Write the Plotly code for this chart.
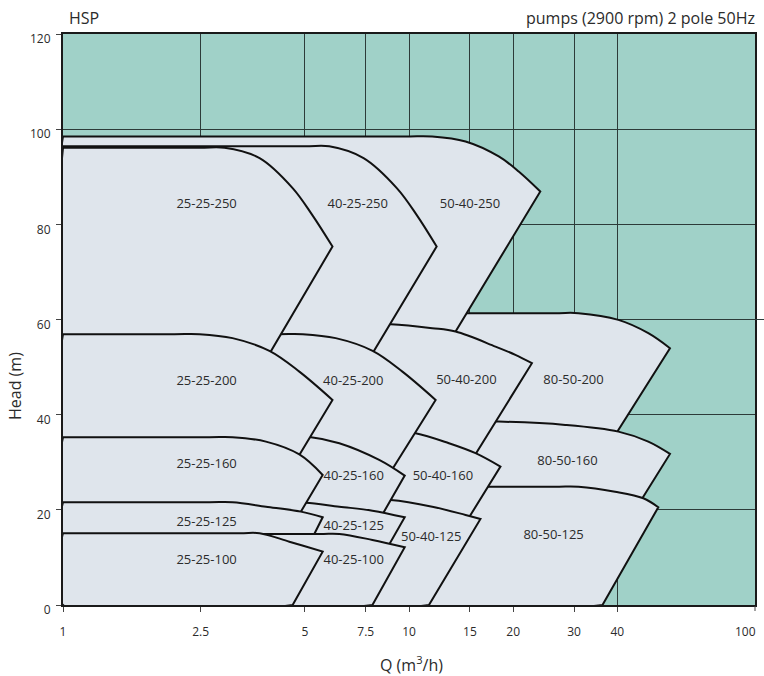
import math
import plotly.graph_objects as go

# ---------------- data ----------------
models = ["25-25-250", "40-25-250", "50-40-250",
          "25-25-200", "40-25-200", "50-40-200", "80-50-200",
          "25-25-160", "40-25-160", "50-40-160", "80-50-160",
          "25-25-125", "40-25-125", "50-40-125", "80-50-125",
          "25-25-100", "40-25-100"]

# upper boundary of each pump range: flow Q (m3/h) ... last point = right-hand corner
top_q = [
    [1, 2.48, 2.93, 3.70, 4.61, 5.25, 6.01],
    [1, 4.98, 5.88, 7.39, 9.22, 10.52, 12.02],
    [1, 9.67, 11.67, 14.57, 18.17, 20.75, 23.96],
    [1, 2.10, 2.48, 3.09, 3.95, 4.82, 6.01],
    [1, 4.17, 4.93, 6.14, 7.85, 9.57, 11.94],
    [1, 7.18, 8.86, 11.67, 13.63, 17.78, 20.30, 22.66],
    [1, 26.18, 30.90, 40.29, 49.16, 56.79],
    [1, 2.65, 3.09, 3.86, 4.82, 5.63],
    [1, 4.51, 5.21, 6.29, 8.20, 9.72],
    [1, 8.76, 10.45, 13.04, 15.57, 18.38],
    [1, 18.17, 28.29, 40.29, 49.16, 56.79],
    [1, 2.65, 3.09, 3.86, 4.87, 5.63],
    [1, 4.51, 5.04, 6.29, 7.84, 9.72],
    [1, 7.67, 8.86, 11.67, 14.57, 16.09],
    [1, 26.18, 30.90, 39.41, 47.56, 52.54],
    [1, 3.24, 3.70, 4.51, 5.63],
    [1, 5.51, 6.29, 7.84, 9.72],
]
# matching head H (m)
top_h = [
    [96.1, 96.1, 96.1, 93.92, 87.62, 82.0, 75.34],
    [96.4, 96.4, 96.4, 93.92, 87.62, 82.0, 75.34],
    [98.47, 98.47, 98.47, 97.41, 94.26, 91.11, 86.90],
    [56.92, 56.92, 56.92, 56.08, 53.41, 49.05, 43.10],
    [56.92, 56.92, 56.92, 56.08, 53.41, 49.05, 43.10],
    [59.02, 59.02, 59.02, 58.18, 57.46, 54.31, 52.57, 50.82],
    [61.33, 61.33, 61.33, 59.92, 57.13, 53.97],
    [35.26, 35.26, 35.26, 34.34, 31.64, 27.33],
    [35.26, 35.26, 35.26, 34.00, 30.49, 27.19],
    [36.59, 36.59, 36.10, 34.00, 31.90, 29.08],
    [38.54, 38.54, 37.85, 36.44, 34.34, 31.75],
    [21.59, 21.59, 21.59, 20.67, 19.62, 18.44],
    [21.51, 21.51, 21.51, 20.67, 19.83, 18.44],
    [22.08, 22.08, 22.08, 20.67, 18.92, 18.08],
    [24.87, 24.87, 24.87, 23.82, 22.43, 20.54],
    [15.08, 15.08, 15.08, 13.31, 11.21],
    [14.93, 14.93, 14.93, 13.67, 12.13],
]
# lower end of the straight right-hand boundary (Q, H)
line_q = [4.00, 7.93, 13.63, 4.82, 9.11, 15.73, 40.29, 4.87, 8.47, 15.06,
          47.56, 5.32, 8.86, 11.42, 36.24, 4.61, 7.84]
line_h = [53.47, 53.47, 57.46, 31.54, 29.44, 32.23, 36.80, 19.62, 19.62, 18.92,
          22.77, 14.87, 13.31, 0, 0, 0, 0]

# label positions
label_q = [2.60, 7.11, 15.01, 2.60, 6.90, 14.65, 29.89, 2.60, 6.92, 12.53,
           28.72, 2.60, 6.92, 11.59, 26.18, 2.60, 6.92]
label_h = [84.1, 84.1, 84.1, 46.95, 46.95, 47.1, 47.1, 29.44, 26.85, 26.85,
           30.13, 17.31, 16.46, 14.23, 14.57, 9.25, 9.25]

# stacking order of the overlapping ranges (higher = drawn on top)
draw_rank = [0, -3, -6, 2, -1, -4, -7, 4, 1, -2, -5, 6, 3, 0, -3, 8, 7]

x_ticks = [1, 2.5, 5, 7.5, 10, 15, 20, 30, 40]
x_tick_text = ["1", "2.5", "5", "7.5", "10", "15", "20", "30", "40"]
x_end_label = "100"
y_ticks = [0, 20, 40, 60, 80, 100, 120]

# ---------------- styling ----------------
TEAL = "#a0d1c8"
FILL = "#dfe5ec"
EDGE = "#111111"
GRID = "#2d3b39"
TXT = "#2b2b2b"
FONT = "Open Sans"

fig = go.Figure()

for i in sorted(range(len(models)), key=lambda k: draw_rank[k]):
    tq, th = top_q[i], top_h[i]
    vq, vh = tq[-1], th[-1]
    lq, lh = line_q[i], line_h[i]
    # continue the straight boundary down to H = 0 (hidden under the ranges in front)
    if lh > 0:
        a, b = math.log10(vq), math.log10(lq)
        t = vh / (vh - lh)
        fq = 10 ** (a + (b - a) * t)
    else:
        fq = lq
    xs = [1, tq[0]] + list(tq) + [vq, fq, fq, 1]
    ys = [0, th[0]] + list(th) + [vh, 0, 0, 0]
    fig.add_trace(go.Scatter(
        x=xs, y=ys, mode="lines", fill="toself", fillcolor=FILL,
        line=dict(color=EDGE, width=2, shape="spline", smoothing=1, simplify=False),
        hoverinfo="skip", showlegend=False))

fig.add_trace(go.Scatter(
    x=label_q, y=label_h, mode="text", text=models,
    textfont=dict(family=FONT, size=13, color=TXT),
    hoverinfo="skip", showlegend=False))

fig.update_layout(
    width=764, height=676,
    margin=dict(l=63, r=7, t=34, b=71),
    paper_bgcolor="white", plot_bgcolor=TEAL,
    showlegend=False,
    font=dict(family=FONT, size=12, color=TXT),
    annotations=[
        dict(text="HSP", x=0, xref="paper", xanchor="left", xshift=4,
             y=1, yref="paper", yanchor="middle", yshift=16,
             showarrow=False, font=dict(family=FONT, size=16, color=TXT)),
        dict(text="pumps (2900 rpm) 2 pole 50Hz", x=1, xref="paper", xanchor="right", xshift=2,
             y=1, yref="paper", yanchor="middle", yshift=16,
             showarrow=False, font=dict(family=FONT, size=16, color=TXT)),
        dict(text="Head (m)", x=0, xref="paper", xanchor="center", xshift=-48,
             y=0.3835, yref="paper", yanchor="middle", textangle=-90,
             showarrow=False, font=dict(family=FONT, size=16, color=TXT)),
        dict(text="Q (m<sup>3</sup>/h)", x=0.503, xref="paper", xanchor="center",
             y=0, yref="paper", yanchor="middle", yshift=-59,
             showarrow=False, font=dict(family=FONT, size=16, color=TXT)),
        dict(text=x_end_label, x=1, xref="paper", xanchor="right", xshift=3,
             y=0, yref="paper", yanchor="middle", yshift=-26,
             showarrow=False, font=dict(family=FONT, size=12, color=TXT)),
    ],
    shapes=[
        dict(type="line", xref="paper", x0=1, x1=1.03, yref="y", y0=60, y1=60,
             line=dict(color=GRID, width=1)),
        dict(type="line", xref="paper", x0=1, x1=1, yref="paper", ysizemode="pixel",
             yanchor=0, y0=-1, y1=-6, line=dict(color="#444444", width=1)),
    ],
)

fig.update_xaxes(
    type="log", range=[0, 2], tickvals=x_ticks, ticktext=x_tick_text,
    showgrid=True, gridcolor=GRID, gridwidth=1, zeroline=False,
    showline=True, linecolor="#1a1a1a", linewidth=2, mirror=True,
    ticks="outside", ticklen=5, tickcolor="#444444", tickwidth=1,
    ticklabelstandoff=10, tickfont=dict(family=FONT, size=12, color=TXT))
fig.update_yaxes(
    range=[0, 120], tickvals=y_ticks,
    showgrid=True, gridcolor=GRID, gridwidth=1, zeroline=False,
    showline=True, linecolor="#1a1a1a", linewidth=2, mirror=True,
    ticks="outside", ticklen=5, tickcolor="#444444", tickwidth=1,
    ticklabelshift=5, ticklabelstandoff=3,
    tickfont=dict(family=FONT, size=12, color=TXT))

fig.write_html("out.html", config={"displayModeBar": False},
               post_script="document.body.style.margin='0px';")
